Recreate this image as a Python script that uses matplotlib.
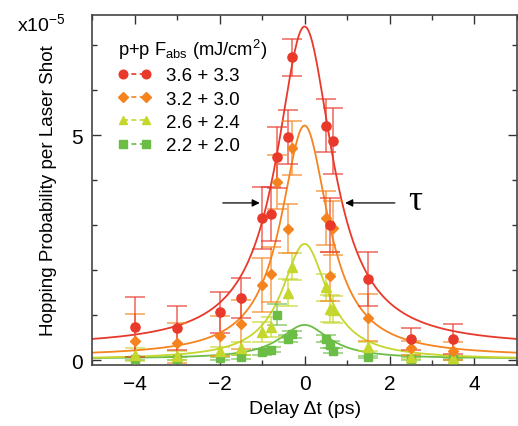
import numpy as np
import matplotlib
matplotlib.use("Agg")
import matplotlib.pyplot as plt
from matplotlib.lines import Line2D
from matplotlib.ticker import MultipleLocator

plt.rcParams['font.family'] = ['Liberation Sans', 'DejaVu Sans']
plt.rcParams['mathtext.default'] = 'regular'

# hopping probability in units of 1e-5, delays in ps
labels = ["3.6 + 3.3", "3.2 + 3.0", "2.6 + 2.4", "2.2 + 2.0"]
colors = ["#e8392b", "#f5841f", "#c5d62c", "#6cbd45"]
markers = ["o", "D", "^", "s"]

x_red = [-4, -3, -2, -1.5, -1.0, -0.8, -0.65, -0.39, -0.29, 0.51, 0.6, 0.68, 1.5, 2.5, 3.5]
y_red = [0.74, 0.73, 1.07, 1.39, 3.16, 3.25, 4.51, 4.96, 6.74, 5.22, 3.0, 4.87, 1.82, 0.48, 0.48]
e_red = [0.66, 0.49, 0.46, 0.45, 0.69, 0.6, 0.68, 0.6, 0.41, 0.59, 0.6, 0.73, 0.6, 0.24, 0.33]

x_orange = [-4, -3, -2, -1.5, -1.0, -0.8, -0.65, -0.39, -0.29, 0.51, 0.6, 0.68, 1.5, 2.5, 3.5]
y_orange = [0.44, 0.39, 0.54, 0.80, 1.67, 1.91, 3.97, 2.93, 4.73, 3.17, 1.87, 2.94, 0.95, 0.28, 0.22]
e_orange = [0.6, 0.45, 0.45, 0.55, 0.6, 0.6, 0.6, 0.55, 0.6, 0.6, 0.55, 0.6, 0.52, 0.15, 0.2]

x_yellow = [-4, -3, -2, -1.5, -1.0, -0.8, -0.39, -0.29, 0.51, 0.6, 0.68, 1.5, 2.5, 3.5]
y_yellow = [0.13, 0.10, 0.20, 0.27, 0.63, 0.74, 1.50, 2.08, 1.63, 1.15, 1.13, 0.30, 0.08, 0.05]
e_yellow = [0.15, 0.1, 0.1, 0.15, 0.22, 0.22, 0.3, 0.3, 0.3, 0.3, 0.3, 0.1, 0.05, 0.05]

x_green = [-4, -3, -2, -1.5, -1.0, -0.8, -0.65, -0.39, -0.29, 0.51, 0.6, 0.68, 1.5, 2.5, 3.5]
y_green = [0.04, 0.04, 0.05, 0.08, 0.19, 0.24, 1.02, 0.48, 0.58, 0.48, 0.35, 0.22, 0.08, 0.04, 0.03]
e_green = [0.03, 0.03, 0.03, 0.04, 0.06, 0.06, 0.24, 0.08, 0.08, 0.08, 0.08, 0.06, 0.03, 0.03, 0.03]

# lorentzian fit parameters: baseline, amplitude, half width (ps)
fit_base = [0.30, 0.08, 0.02, 0.04]
fit_amp = [7.12, 5.14, 2.57, 0.75]
fit_width = [0.80, 0.68, 0.65, 0.71]

tau_level = 3.5
tau_left = -0.99
tau_right = 0.89

series = [
    (x_red, y_red, e_red),
    (x_orange, y_orange, e_orange),
    (x_yellow, y_yellow, e_yellow),
    (x_green, y_green, e_green),
]

fig = plt.figure(figsize=(5.18, 4.27), dpi=100)
ax = fig.add_axes([0.178, 0.144, 0.82, 0.819])

xf = np.linspace(-5, 5, 401)
for i in reversed(range(4)):
    xs, ys, es = series[i]
    yf = fit_base[i] + fit_amp[i] * fit_width[i] ** 2 / (xf ** 2 + fit_width[i] ** 2)
    ax.plot(xf, yf, color=colors[i], lw=1.3, zorder=2)
    ax.errorbar(xs, ys, yerr=es, fmt="none", ecolor=colors[i], alpha=0.7,
                elinewidth=1.2, capsize=7, capthick=1.2, zorder=3)
    ms = {"o": 6.6, "^": 6.6, "s": 6.0, "D": 5.2}[markers[i]]
    ax.plot(xs, ys, linestyle="none", marker=markers[i], color=colors[i],
            markersize=ms, zorder=4)

ax.annotate("", xy=(tau_left, tau_level), xytext=(tau_left - 1.0, tau_level),
            arrowprops=dict(arrowstyle="-|>", color="k", lw=0.9, mutation_scale=11))
ax.annotate("", xy=(tau_right, tau_level), xytext=(tau_right + 1.3, tau_level),
            arrowprops=dict(arrowstyle="-|>", color="k", lw=0.9, mutation_scale=11))
ax.text(tau_right + 1.55, tau_level + 0.05, "τ", family=["Liberation Serif", "DejaVu Serif"],
        fontsize=25, va="center", ha="left")

ax.set_xlim(-5, 5)
ax.set_ylim(-0.09, 7.68)
ax.xaxis.set_major_locator(MultipleLocator(2))
ax.xaxis.set_minor_locator(MultipleLocator(1))
ax.yaxis.set_major_locator(MultipleLocator(5))
ax.yaxis.set_minor_locator(MultipleLocator(1))
ax.tick_params(which="both", direction="in", top=True, right=True,
               labelsize=15, color="#333333", width=1)
ax.tick_params(which="major", length=6.5, pad=7)
ax.tick_params(which="minor", length=3.6)
for s in ax.spines.values():
    s.set_color("#444444")
    s.set_linewidth(1.2)

ax.set_xlabel("Delay Δt (ps)", fontsize=14, labelpad=5)
ax.set_ylabel("Hopping Probability per Laser Shot", fontsize=13.6, labelpad=10)
ax.text(-0.178, 0.955, r"x10$^{-5}$", transform=ax.transAxes, fontsize=14,
        ha="left", va="baseline")

handles = [Line2D([], [], color=colors[i], linestyle=(0, (3, 2)), lw=1.2,
                  marker=markers[i], markersize={"o": 6.2, "^": 6.2, "s": 5.6, "D": 5.0}[markers[i]],
                  markerfacecolor=colors[i], markeredgecolor=colors[i])
           for i in range(4)]
leg = ax.legend(handles, labels, title=r"p+p F$_{abs}$ (mJ/cm$^{2}$)", loc="upper left",
                bbox_to_anchor=(0.02, 0.985), frameon=False, fontsize=13.5,
                title_fontsize=13.2, numpoints=2, handlelength=1.8, labelspacing=0.33,
                handletextpad=0.8)
leg._legend_box.align = "left"

fig.savefig("out.png", dpi=100)
